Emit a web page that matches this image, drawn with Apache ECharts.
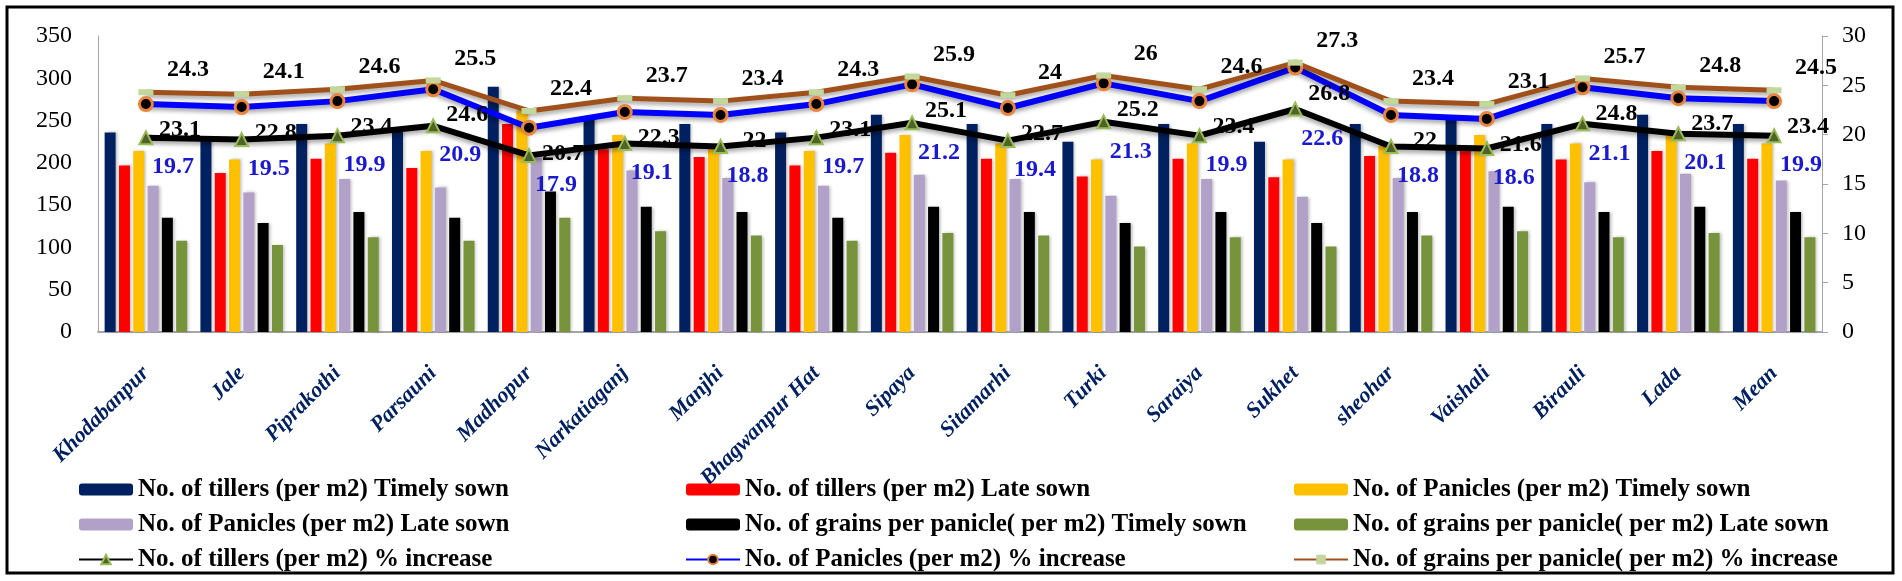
<!DOCTYPE html>
<html>
<head>
<meta charset="utf-8">
<title>Tillers, panicles and grains</title>
<script src="https://cdn.jsdelivr.net/npm/echarts@6/dist/echarts.min.js"></script>
<style>
    html, body { margin: 0; padding: 0; background: #fff; }
    #main { width: 1902px; height: 581px; }
</style>
</head>
<body>
<div id="main"></div>
<script>
// categories
var places = ['Khodabanpur', 'Jale', 'Piprakothi', 'Parsauni', 'Madhopur', 'Narkatiaganj', 'Manjhi',
    'Bhagwanpur Hat', 'Sipaya', 'Sitamarhi', 'Turki', 'Saraiya', 'Sukhet', 'sheohar', 'Vaishali',
    'Birauli', 'Lada', 'Mean'];

// bars (left axis)
var tillersTimely = [236, 227, 246, 237, 290, 252, 246, 236, 257, 246, 225, 246, 225, 246, 252, 246, 257, 246];
var tillersLate = [197, 188, 205, 194, 246, 216, 207, 197, 212, 205, 184, 205, 183, 208, 216, 204, 214, 205];
var paniclesTimely = [214, 204, 223, 214, 262, 233, 217, 214, 233, 223, 204, 223, 204, 220, 233, 223, 233, 223];
var paniclesLate = [173, 165, 181, 171, 206, 191, 182, 173, 186, 181, 161, 181, 160, 182, 190, 177, 187, 179];
var grainsTimely = [135, 129, 142, 135, 166, 148, 142, 135, 148, 142, 129, 142, 129, 142, 148, 142, 148, 142];
var grainsLate = [108, 103, 112, 108, 135, 119, 114, 108, 117, 114, 101, 112, 101, 114, 119, 112, 117, 112];

// % increase lines (right axis)
var tillersInc = [19.7, 19.5, 19.9, 20.9, 17.9, 19.1, 18.8, 19.7, 21.2, 19.4, 21.3, 19.9, 22.6, 18.8, 18.6, 21.1, 20.1, 19.9];
var paniclesInc = [23.1, 22.8, 23.4, 24.6, 20.7, 22.3, 22, 23.1, 25.1, 22.7, 25.2, 23.4, 26.8, 22, 21.6, 24.8, 23.7, 23.4];
var grainsInc = [24.3, 24.1, 24.6, 25.5, 22.4, 23.7, 23.4, 24.3, 25.9, 24, 26, 24.6, 27.3, 23.4, 23.1, 25.7, 24.8, 24.5];

// axis ticks [min, max, step]
var leftTicks = [0, 350, 50];
var rightTicks = [0, 30, 5];

var names = [
    'No. of tillers (per m2) Timely sown',
    'No. of tillers (per m2) Late sown',
    'No. of Panicles (per m2) Timely sown',
    'No. of Panicles (per m2) Late sown',
    'No. of grains per panicle( per m2) Timely sown',
    'No. of grains per panicle( per m2) Late sown',
    'No. of tillers (per m2) % increase',
    'No. of Panicles (per m2) % increase',
    'No. of grains per panicle( per m2) % increase'
];

var serif = '"Liberation Serif", "DejaVu Serif", serif';

function bar(name, data, color) {
    return {
        name: name,
        type: 'bar',
        data: data,
        barWidth: 11,
        barGap: '30%',
        itemStyle: {
            color: color,
            shadowColor: 'rgba(0,0,0,0.25)',
            shadowBlur: 3,
            shadowOffsetX: 2
        }
    };
}

function line(name, data, color, width, symbol, size, markStyle, lbl) {
    return {
        name: name,
        type: 'line',
        yAxisIndex: 1,
        data: data,
        z: 5,
        symbol: symbol,
        symbolSize: size,
        lineStyle: {
            color: color,
            width: width,
            shadowColor: 'rgba(0,0,0,0.35)',
            shadowBlur: 4,
            shadowOffsetY: 3
        },
        itemStyle: markStyle,
        label: lbl
    };
}

var dom = document.getElementById('main');
var myChart = echarts.init(dom);

var legendText = {
    fontFamily: serif,
    fontWeight: 'bold',
    fontSize: 25,
    lineHeight: 22,
    color: '#000'
};

var option = {
    backgroundColor: '#fff',
    animation: false,
    graphic: [{
        type: 'rect',
        shape: { x: 7, y: 7, width: 1886, height: 566 },
        style: { fill: 'none', stroke: '#000', lineWidth: 3 },
        silent: true
    }],
    legend: [{
        left: 73, top: 472, orient: 'vertical', itemGap: 10, itemWidth: 54, itemHeight: 12,
        textStyle: legendText,
        data: [names[0], names[3], names[6]]
    }, {
        left: 680, top: 472, orient: 'vertical', itemGap: 10, itemWidth: 54, itemHeight: 12,
        textStyle: legendText,
        data: [names[1], names[4], names[7]]
    }, {
        left: 1288, top: 472, orient: 'vertical', itemGap: 10, itemWidth: 54, itemHeight: 12,
        textStyle: legendText,
        data: [names[2], names[5], names[8]]
    }],
    grid: {
        left: 98,
        right: 80,
        top: 36,
        bottom: 249
    },
    xAxis: {
        type: 'category',
        data: places,
        axisLine: { lineStyle: { color: '#a6a6a6', width: 2 } },
        axisTick: { show: false },
        axisLabel: {
            interval: 0,
            rotate: 45,
            margin: 38,
            fontFamily: serif,
            fontWeight: 'bold',
            fontStyle: 'italic',
            fontSize: 22,
            color: '#002060'
        }
    },
    yAxis: [{
        type: 'value',
        min: leftTicks[0],
        max: leftTicks[1],
        interval: leftTicks[2],
        splitLine: { show: false },
        axisLine: { show: true, lineStyle: { color: '#a6a6a6' } },
        axisTick: { show: false },
        axisLabel: { fontFamily: serif, fontSize: 24, color: '#000', margin: 26 }
    }, {
        type: 'value',
        min: rightTicks[0],
        max: rightTicks[1],
        interval: rightTicks[2],
        splitLine: { show: false },
        axisLine: { show: true, lineStyle: { color: '#a6a6a6' } },
        axisTick: { show: true, length: 6, lineStyle: { color: '#a6a6a6' } },
        axisLabel: { fontFamily: serif, fontSize: 24, color: '#000', margin: 20 }
    }],
    series: [
        bar(names[0], tillersTimely, '#002060'),
        bar(names[1], tillersLate, '#ff0000'),
        bar(names[2], paniclesTimely, '#ffc000'),
        bar(names[3], paniclesLate, '#b1a0c7'),
        bar(names[4], grainsTimely, '#000000'),
        bar(names[5], grainsLate, '#77933c'),
        line(names[6], tillersInc, '#000000', 6, 'triangle', 13,
            { color: '#4f6228', borderColor: '#9bbb59', borderWidth: 2 },
            { show: true, position: 'bottom', offset: [27, 5], fontFamily: serif, fontWeight: 'bold', fontSize: 24, color: '#1a1acc' }),
        line(names[7], paniclesInc, '#0000ff', 6, 'circle', 13,
            { color: '#000', borderColor: '#e8843c', borderWidth: 3 },
            { show: true, position: 'bottom', offset: [34, 1], fontFamily: serif, fontWeight: 'bold', fontSize: 24, color: '#000' }),
        line(names[8], grainsInc, '#a0501a', 5, 'rect', [15, 6],
            { color: '#c3d69b' },
            { show: true, position: 'top', offset: [42, -2], fontFamily: serif, fontWeight: 'bold', fontSize: 24, color: '#000' })
    ]
};

myChart.setOption(option, true);
window.onresize = myChart.resize;
</script>
</body>
</html>
